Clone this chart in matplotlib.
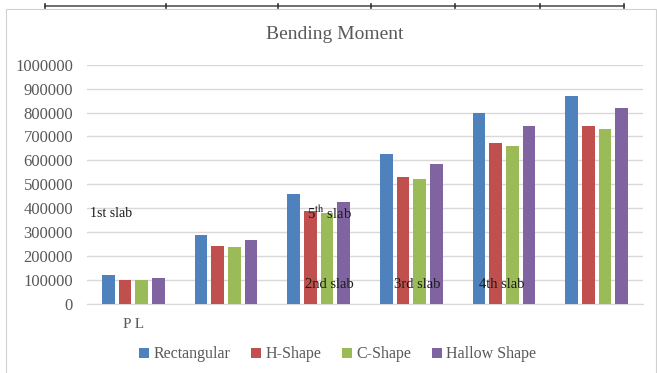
import numpy as np
import matplotlib.pyplot as plt
from matplotlib.lines import Line2D

plt.rcParams['font.family'] = ['Liberation Serif', 'DejaVu Serif']
plt.rcParams['mathtext.fontset'] = 'stix'

categories = ['P L', '', '', '', '', '']
series_names = ['Rectangular', 'H-Shape', 'C-Shape', 'Hallow Shape']
rectangular = [120000, 290000, 458000, 627000, 797000, 870000]
h_shape = [100000, 242000, 387000, 529000, 674000, 745000]
c_shape = [100000, 238000, 379000, 521000, 661000, 730000]
hallow_shape = [109000, 267000, 426000, 584000, 742000, 819000]
colors = ['#4F81BD', '#C0504D', '#9BBB59', '#8064A2']

# slab labels written over the bars: (text, x in group units, y value, size)
slab_notes = [
    ('1st slab', -0.47, 380000, 10),
    ('5$^{\\mathrm{th}}$ slab', 1.87, 380000, 10.5),
    ('2nd slab', 1.85, 80000, 10.5),
    ('3rd slab', 2.81, 80000, 10.5),
    ('4th slab', 3.73, 80000, 10.5),
]

fig = plt.figure(figsize=(6.57, 3.73), dpi=100)
ax = fig.add_axes([0.1324, 0.185, 0.8463, 0.6415])

x = np.arange(len(categories))
width = 0.137
step = 0.18
all_series = [rectangular, h_shape, c_shape, hallow_shape]
for i, (vals, name, col) in enumerate(zip(all_series, series_names, colors)):
    ax.bar(x + (i - 1.5) * step, vals, width, color=col, label=name, zorder=3)

ax.set_xlim(-0.5, len(categories) - 0.5)
ax.set_ylim(0, 1000000)
ax.set_yticks(np.arange(0, 1000001, 100000))
ax.set_yticklabels([str(v) for v in range(0, 1000001, 100000)])
ax.set_xticks(x)
ax.set_xticklabels(categories)
ax.tick_params(axis='y', length=0, pad=10, labelsize=12, labelcolor='#595959')
ax.tick_params(axis='x', length=0, pad=10, labelsize=11, labelcolor='#595959')
ax.yaxis.grid(True, color='#D9D9D9', linewidth=1, zorder=0)
for side in ['top', 'right', 'left']:
    ax.spines[side].set_visible(False)
ax.spines['bottom'].set_color('#D9D9D9')

for txt, xp, yp, fs in slab_notes:
    ax.text(xp, yp, txt, fontsize=fs, color='#1a1a1a', va='center', ha='left', zorder=4)

fig.text(0.509, 0.908, 'Bending Moment', fontsize=14, color='#595959', ha='center', va='center')

ax.legend(loc='center', bbox_to_anchor=(0.514, 0.05), bbox_transform=fig.transFigure,
          ncol=4, frameon=False, fontsize=11.5, handlelength=0.6, handleheight=0.6,
          handletextpad=0.3, columnspacing=1.3, labelcolor='#595959')

# chart border and the ruled line running above it
fig.add_artist(plt.Rectangle((0.009, -0.01), 0.989, 0.985, transform=fig.transFigure,
                             fill=False, edgecolor='#D0D0D0', linewidth=0.8))
fig.add_artist(Line2D([45 / 657, 624 / 657], [0.984, 0.984], transform=fig.transFigure,
                      color='#555555', linewidth=1.2))
for tx in [45, 166, 278, 371, 455, 540, 624]:
    fig.add_artist(Line2D([tx / 657, tx / 657], [0.979, 0.989], transform=fig.transFigure,
                          color='#333333', linewidth=1.2))

fig.savefig('out.png', dpi=100)
